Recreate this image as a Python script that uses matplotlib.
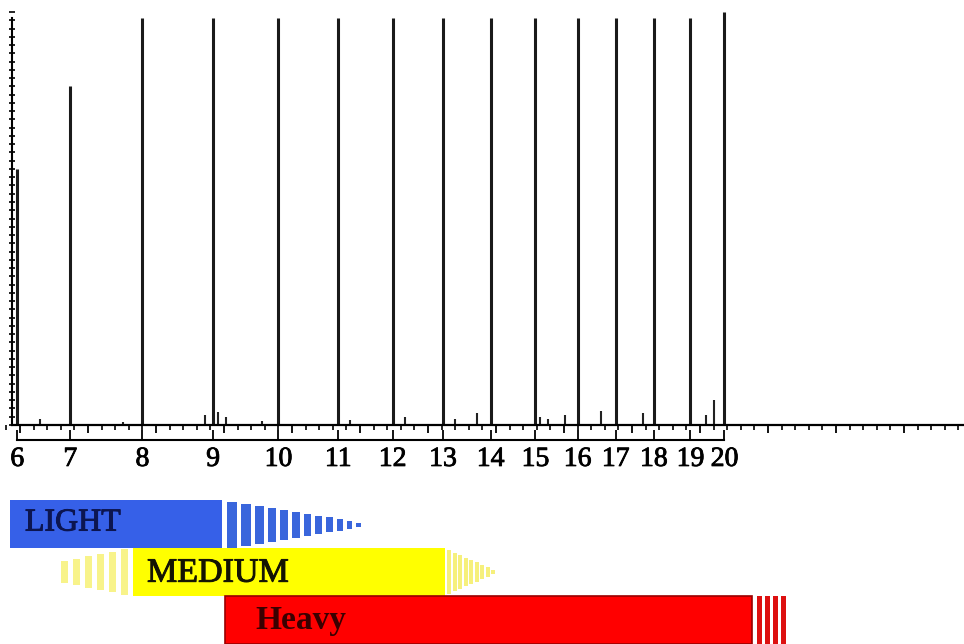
import numpy as np
import matplotlib.pyplot as plt
import matplotlib.patheffects as pe
from matplotlib.patches import Rectangle
from matplotlib.ticker import MultipleLocator

# n-alkane peaks: carbon number, retention time (min), peak height (% full scale)
carbon = [6, 7, 8, 9, 10, 11, 12, 13, 14, 15, 16, 17, 18, 19, 20]
ret_time = [0.98, 1.37, 1.90, 2.42, 2.90, 3.34, 3.74, 4.11, 4.46, 4.79,
            5.10, 5.38, 5.66, 5.93, 6.18]
height = [62, 82, 98.5, 98.5, 98.5, 98.5, 98.5, 98.5, 98.5, 98.5,
          98.5, 98.5, 98.5, 98.5, 100]

# small unresolved peaks between the alkanes
minor_time = [1.147, 1.757, 2.360, 2.456, 2.515, 2.779, 3.426, 3.831, 4.199,
              4.360, 4.82, 4.882, 5.007, 5.272, 5.581, 6.044, 6.103]
minor_height = [1.5, 0.8, 2.5, 3.2, 2.0, 1.0, 1.3, 2.0, 1.5,
                3.0, 2.0, 1.5, 2.5, 3.5, 3.0, 2.5, 6.0]

# fuel ranges (start, end in minutes)
light_range = (0.926, 2.485)
medium_range = (1.831, 4.125)
heavy_range = (2.507, 6.382)

t_min, t_max = 0.853, 7.941
t_axis = 0.941

serif = ['Liberation Serif', 'DejaVu Serif']
heavier = [pe.withStroke(linewidth=0.7, foreground='#111111')]

fig = plt.figure(figsize=(9.64, 6.44), dpi=100)

# chromatogram
ax = fig.add_axes([0, 219 / 644, 1, 413 / 644])
ax.vlines(ret_time, 0, height, color='#1a1a1a', lw=2.2)
ax.vlines(minor_time, 0, minor_height, color='#222222', lw=1.5)
ax.set_xlim(t_min, t_max)
ax.set_ylim(0, 100)
for s in ['top', 'right']:
    ax.spines[s].set_visible(False)
ax.spines['left'].set_position(('data', t_axis))
ax.spines['left'].set_bounds(0, 98.5)
ax.spines['left'].set_linewidth(1.5)
ax.spines['bottom'].set_bounds(t_axis, t_max)
ax.spines['bottom'].set_linewidth(1.6)
ax.xaxis.set_major_locator(MultipleLocator(0.5))
ax.xaxis.set_minor_locator(MultipleLocator(0.1))
ax.yaxis.set_major_locator(MultipleLocator(10))
ax.yaxis.set_minor_locator(MultipleLocator(2))
ax.tick_params(axis='x', which='major', direction='out', length=6, width=1.3,
               labelbottom=False)
ax.tick_params(axis='x', which='minor', direction='out', length=3.5, width=1.2)
ax.tick_params(axis='y', which='both', direction='inout', length=4, width=1.2,
               labelleft=False)
ax.patch.set_alpha(0)

# carbon number scale
axc = fig.add_axes([0, 204 / 644, 1, 0.001])
axc.set_xlim(t_min, t_max)
for s in ['top', 'right', 'left']:
    axc.spines[s].set_visible(False)
axc.spines['bottom'].set_bounds(ret_time[0], ret_time[-1])
axc.spines['bottom'].set_linewidth(1.5)
axc.set_yticks([])
axc.set_xticks(ret_time)
axc.set_xticklabels([str(c) for c in carbon], fontsize=20, family=serif)
for lab in axc.get_xticklabels():
    lab.set_path_effects([pe.withStroke(linewidth=0.6, foreground='black')])
axc.tick_params(axis='x', direction='in', length=7.5, width=1.3, pad=5)
axc.patch.set_alpha(0)

# fuel range bands
axb = fig.add_axes([0, 0, 1, 144 / 644])
axb.set_xlim(t_min, t_max)
axb.set_ylim(0, 3)
axb.axis('off')

px = (t_max - t_min) / 964.0  # minutes per pixel

# LIGHT
axb.add_patch(Rectangle((light_range[0], 2), light_range[1] - light_range[0], 1,
                        fc='#3660e8', ec='none'))
x = light_range[1] + 5 * px
n = 12
for i in range(n):
    w = (10 - 5 * i / (n - 1)) * px
    h = 0.94 * (1 - i / n)
    axb.add_patch(Rectangle((x, 2.48 - h / 2), w, h, fc='#3a66dc', ec='none'))
    x += w + 4 * px
axb.text(light_range[0] + 15 * px, 2.52, 'LIGHT', fontsize=23, family=serif,
         color='#0c1550', va='center', ha='left',
         path_effects=[pe.withStroke(linewidth=0.7, foreground='#0c1550')])

# MEDIUM
axb.add_patch(Rectangle((medium_range[0], 1), medium_range[1] - medium_range[0], 1,
                        fc='#ffff00', ec='none'))
x = medium_range[0]
for i in range(6):
    w = 7 * px
    x -= w + 5 * px
    h = 0.95 - 0.1 * i
    axb.add_patch(Rectangle((x, 1.5 - h / 2), w, h, fc='#f8f38a', ec='none'))
x = medium_range[1] + 2 * px
for i in range(9):
    w = 4 * px
    h = 0.9 * (1 - i / 9)
    axb.add_patch(Rectangle((x, 1.5 - h / 2), w, h, fc='#f6f07c', ec='none'))
    x += w + 1.5 * px
axb.text(medium_range[0] + 14 * px, 1.47, 'MEDIUM', fontsize=24.5, family=serif,
         color='#141400', va='center', ha='left', path_effects=heavier)

# Heavy
axb.add_patch(Rectangle((heavy_range[0], 0), heavy_range[1] - heavy_range[0], 1,
                        fc='#ff0000', ec='#9a0000', lw=1.2))
x = heavy_range[1] + 5 * px
for i in range(4):
    w = 5 * px
    axb.add_patch(Rectangle((x, 0), w, 1, fc='#dd1010', ec='none'))
    x += w + 3 * px
axb.text(heavy_range[0] + 30 * px, 0.48, 'Heavy', fontsize=24, family=serif,
         weight='bold', color='#3a0000', va='center', ha='left')

plt.savefig('out.png', dpi=100)
plt.close()
